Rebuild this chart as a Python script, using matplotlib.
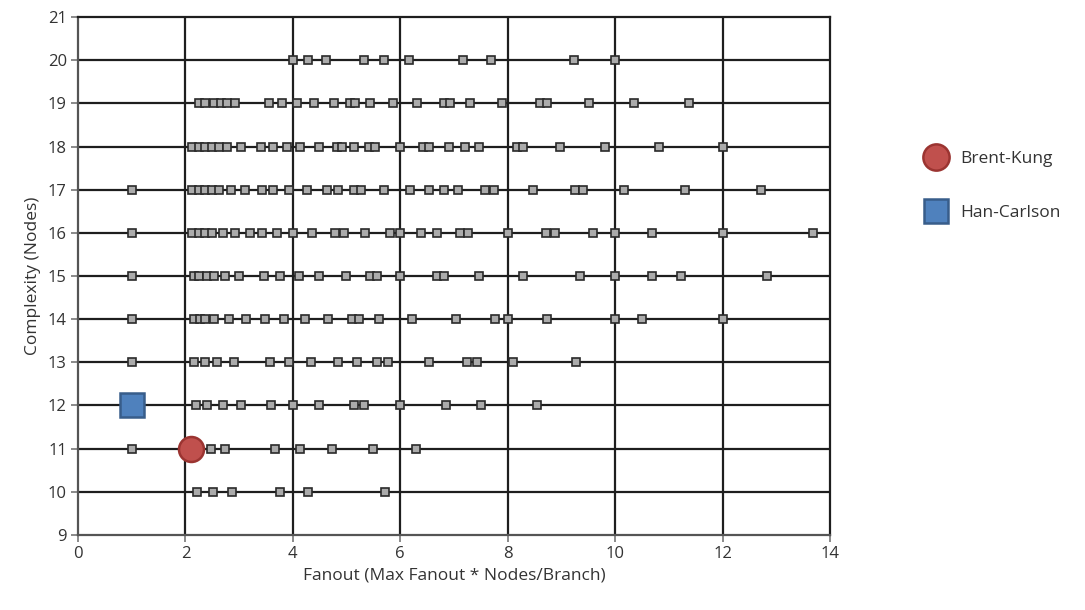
import matplotlib
matplotlib.use("Agg")
import matplotlib.pyplot as plt
import numpy as np

plt.rcParams['font.family'] = ['Open Sans', 'DejaVu Sans']

# fanout values of the explored adders, grouped by node count
row_20 = [4.0, 4.28, 4.62, 5.32, 5.70, 6.16, 7.17, 7.69, 9.23, 10.0]
row_19 = [2.25, 2.37, 2.53, 2.66, 2.78, 2.93, 3.55, 3.80, 4.08, 4.39, 4.76, 5.07, 5.16,
          5.44, 5.86, 6.32, 6.81, 6.92, 7.29, 7.89, 8.60, 8.73, 9.51, 10.35, 11.38]
row_18 = [2.12, 2.25, 2.37, 2.50, 2.62, 2.78, 3.04, 3.41, 3.63, 3.89, 4.14, 4.48, 4.82,
          4.91, 5.14, 5.41, 5.53, 6.0, 6.43, 6.53, 6.90, 7.21, 7.46, 8.18, 8.29, 8.98,
          9.81, 10.81, 12.0]
row_17 = [1.0, 2.12, 2.25, 2.37, 2.50, 2.62, 2.84, 3.10, 3.43, 3.63, 3.92, 4.26, 4.64,
          4.85, 5.13, 5.26, 5.69, 6.19, 6.53, 6.81, 7.08, 7.58, 7.74, 8.47, 9.26, 9.41,
          10.17, 11.30, 12.71]
row_16 = [1.0, 2.12, 2.25, 2.37, 2.50, 2.70, 2.92, 3.20, 3.43, 3.71, 4.0, 4.36, 4.79,
          4.95, 5.35, 5.81, 6.0, 6.38, 6.68, 7.12, 7.27, 8.0, 8.72, 8.88, 9.58, 10.0,
          10.68, 12.0, 13.69]
row_15 = [1.0, 2.16, 2.25, 2.40, 2.53, 2.74, 2.99, 3.46, 3.77, 4.11, 4.48, 4.99, 5.44,
          5.57, 6.0, 6.68, 6.81, 7.46, 8.29, 9.34, 10.0, 10.68, 11.23, 12.82]
row_14 = [1.0, 2.16, 2.28, 2.37, 2.54, 2.82, 3.12, 3.49, 3.83, 4.23, 4.65, 5.10, 5.24,
          5.61, 6.22, 7.04, 7.77, 8.0, 8.74, 10.0, 10.50, 12.0]
row_13 = [1.0, 2.16, 2.37, 2.59, 2.90, 3.58, 3.92, 4.33, 4.85, 5.19, 5.57, 5.78, 6.53,
          7.24, 7.43, 8.10, 9.27]
row_12 = [2.20, 2.40, 2.70, 3.04, 3.60, 4.0, 4.48, 5.13, 5.33, 6.0, 6.86, 7.50, 8.54]
row_11 = [1.0, 2.0, 2.47, 2.74, 3.67, 4.14, 4.73, 5.50, 6.30]
row_10 = [2.22, 2.51, 2.87, 3.77, 4.29, 5.72]

rows = {20: row_20, 19: row_19, 18: row_18, 17: row_17, 16: row_16, 15: row_15,
        14: row_14, 13: row_13, 12: row_12, 11: row_11, 10: row_10}

brent_kung = (2.1, 11)
han_carlson = (1.0, 12)

fig = plt.figure(figsize=(10.85, 6.1), dpi=100)
ax = fig.add_axes([0.0719, 0.123, 0.693, 0.849])

ax.set_xlim(0, 14)
ax.set_ylim(9, 21)
ax.set_xticks(np.arange(0, 15, 2))
ax.set_yticks(np.arange(9, 22, 1))

for y in range(10, 21):
    ax.axhline(y, color='#1e1e1e', lw=1.6, zorder=1)
for x in range(2, 14, 2):
    ax.axvline(x, color='#1e1e1e', lw=1.6, zorder=1)

for y, xs in rows.items():
    ax.plot(xs, [y] * len(xs), ls='none', marker='s', markersize=5.5,
            markerfacecolor='#ababab', markeredgecolor='#2a2a2a',
            markeredgewidth=1.2, zorder=3)

ax.plot(*brent_kung, ls='none', marker='o', markersize=18,
        markerfacecolor='#c0504d', markeredgecolor='#9b3431',
        markeredgewidth=1.8, zorder=4, label='Brent-Kung')
ax.plot(*han_carlson, ls='none', marker='s', markersize=17,
        markerfacecolor='#4f81bd', markeredgecolor='#385d8a',
        markeredgewidth=1.8, zorder=4, label='Han-Carlson')

for side in ['top', 'right']:
    ax.spines[side].set_color('#1e1e1e')
    ax.spines[side].set_linewidth(1.6)
for side in ['left', 'bottom']:
    ax.spines[side].set_color('#555555')
    ax.spines[side].set_linewidth(1.6)

ax.tick_params(axis='both', direction='out', length=5, width=1.2,
               color='#777777', labelsize=12, labelcolor='#333333', pad=3)

ax.set_xlabel('Fanout (Max Fanout * Nodes/Branch)', fontsize=12.5, color='#333333')
ax.set_ylabel('Complexity (Nodes)', fontsize=12.5, color='#333333', labelpad=5)

leg = fig.legend(loc='upper left', bbox_to_anchor=(0.832, 0.778), frameon=False,
                 fontsize=12.5, labelspacing=2.15, handletextpad=0.4,
                 markerscale=1.05)
for t in leg.get_texts():
    t.set_color('#333333')

fig.savefig('out.png', dpi=100)
